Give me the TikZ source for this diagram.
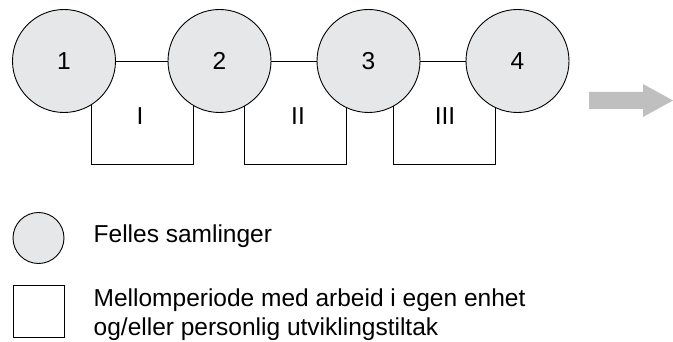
\documentclass[tikz,border=0pt]{standalone}
\usepackage{fontspec}
\setmainfont{Liberation Sans}
\definecolor{circfill}{HTML}{E6E7E8}
\definecolor{arrowgray}{HTML}{BFBFBF}
\begin{document}
\begin{tikzpicture}[x=1pt,y=-1pt,
  every node/.style={font=\fontsize{24.5}{28}\selectfont},
  meet/.style={circle,draw=black,line width=0.9pt,fill=circfill,minimum size=103pt,inner sep=0pt},
  period/.style={draw=black,line width=0.9pt,minimum width=102pt,minimum height=103pt,inner sep=0pt},
  link/.style={draw=black,line width=0.9pt},
  legendtext/.style={anchor=base west,inner sep=0pt}]
\useasboundingbox (0,0) rectangle (673,342);
% period boxes (behind circles)
\node[period] (b1) at (142,112.5) {};
\node[period] (b2) at (295.5,112.5) {};
\node[period] (b3) at (444.5,112.5) {};
\node (l1) at (140,116) {I};
\node (l2) at (298,116) {II};
\node (l3) at (445,116) {III};
% gatherings
\node[meet] (c1) at (64,61) {1};
\node[meet] (c2) at (219.5,61) {2};
\node[meet] (c3) at (368.5,61) {3};
\node[meet] (c4) at (517.5,61) {4};
\draw[link] (c1) -- (c2);
\draw[link] (c2) -- (c3);
\draw[link] (c3) -- (c4);
% arrow
\fill[arrowgray] (589,92) -- (643,92) -- (643,84) -- (673,100.5) -- (643,117) -- (643,109) -- (589,109) -- cycle;
% legend
\node[circle,draw=black,line width=0.9pt,fill=circfill,minimum size=51pt,inner sep=0pt] (lc) at (38.5,238) {};
\node[legendtext] (lt1) at (93.5,243) {Felles samlinger};
\node[draw=black,line width=0.9pt,minimum width=51pt,minimum height=52pt,inner sep=0pt] (ls) at (38.5,311) {};
\node[legendtext] (lt2) at (93.5,307) {Mellomperiode med arbeid i egen enhet};
\node[legendtext] (lt3) at (93.5,335) {og/eller personlig utviklingstiltak};
\end{tikzpicture}
\end{document}
